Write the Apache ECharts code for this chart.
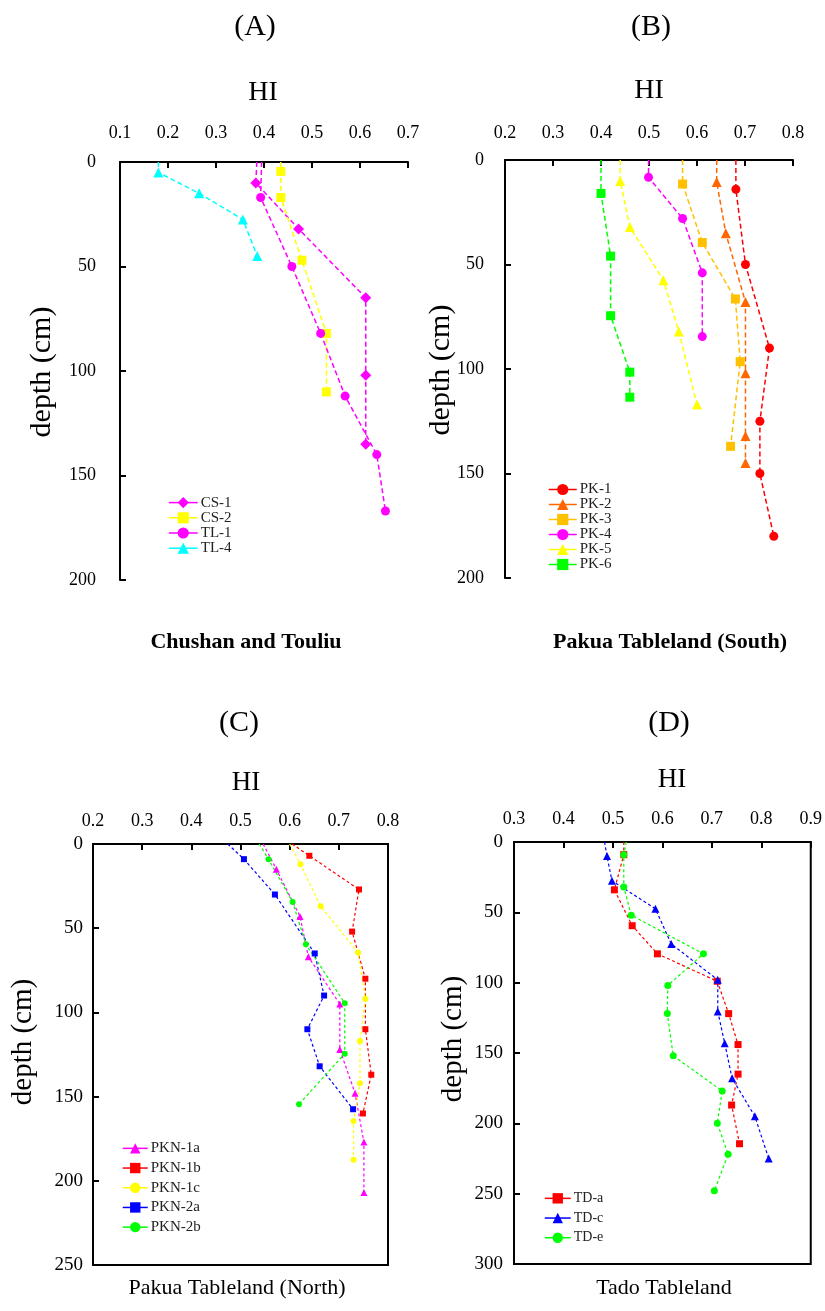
<!DOCTYPE html>
<html>
<head>
<meta charset="utf-8">
<script src="https://cdn.jsdelivr.net/npm/echarts@6/dist/echarts.min.js"></script>
<style>
html,body{margin:0;padding:0;background:#fff;}
#chart{width:825px;height:1311px;}
</style>
</head>
<body>
<div id="chart"></div>
<script>
// ---- Data: [HI, depth(cm)]; first entry is the surface (0 cm) start of each profile line ----
// Panel A: Chushan and Touliu
const CS1 = [[0.385,0],[0.383,10],[0.472,32],[0.612,65],[0.612,102],[0.612,135]];
const CS2 = [[0.435,0],[0.435,4.5],[0.435,17],[0.479,47],[0.53,82],[0.53,110]];
const TL1 = [[0.395,0],[0.393,17],[0.458,50],[0.518,82],[0.569,112],[0.635,140],[0.653,167]];
const TL4 = [[0.18,0],[0.18,5],[0.265,15],[0.356,27.5],[0.386,45]];
// Panel B: Pakua Tableland (South)
const PK1 = [[0.681,0],[0.681,14],[0.701,50],[0.751,90],[0.731,125],[0.731,150],[0.76,180]];
const PK2 = [[0.641,0],[0.641,10.5],[0.66,35],[0.701,68],[0.701,102],[0.701,132],[0.701,145]];
const PK3 = [[0.57,0],[0.57,11.5],[0.611,39.5],[0.68,66.5],[0.69,96.5],[0.67,137]];
const PK4 = [[0.499,0],[0.499,8.3],[0.57,28],[0.611,54],[0.611,84.5]];
const PK5 = [[0.44,0],[0.44,10],[0.46,32],[0.53,57.5],[0.562,82],[0.6,117]];
const PK6 = [[0.4,0],[0.4,16],[0.42,46],[0.42,74.5],[0.46,101.5],[0.46,113.5]];
// Panel C: Pakua Tableland (North)
const PKN1a = [[0.546,0],[0.573,15],[0.621,43],[0.638,67],[0.702,95],[0.702,122],[0.733,148],[0.751,177],[0.751,207]];
const PKN1b = [[0.605,0],[0.64,7],[0.741,27],[0.727,52],[0.754,80],[0.754,110],[0.766,137],[0.749,160]];
const PKN1c = [[0.60,0],[0.622,12],[0.663,37],[0.739,64.5],[0.754,92],[0.743,117],[0.743,142],[0.73,164.5],[0.73,187.5]];
const PKN2a = [[0.474,0],[0.507,9],[0.57,30],[0.651,65],[0.67,90],[0.636,110],[0.661,132],[0.729,157.5]];
const PKN2b = [[0.538,0],[0.557,9],[0.606,34.5],[0.633,59.5],[0.712,94.5],[0.712,124.5],[0.619,154.5]];
// Panel D: Tado Tableland
const TDa = [[0.522,0],[0.522,9],[0.503,34],[0.539,59.5],[0.59,79.5],[0.711,99],[0.734,122],[0.753,144],[0.753,165],[0.74,187],[0.756,214.5]];
const TDc = [[0.483,0],[0.488,10],[0.498,27.5],[0.586,47.5],[0.618,72.5],[0.712,98],[0.712,120.5],[0.726,143],[0.741,168],[0.787,195],[0.815,225]];
const TDe = [[0.527,0],[0.522,9],[0.522,32],[0.537,52],[0.683,79.5],[0.611,102],[0.61,122],[0.622,152],[0.721,177],[0.711,200],[0.733,222],[0.705,248]];

// Axis ranges
const xRanges = [[0.1,0.7],[0.2,0.8],[0.2,0.8],[0.3,0.9]];
const yRanges = [[0,200],[0,200],[0,250],[0,300]];

const FONT = '"Liberation Serif","Times New Roman",serif';

const grids = [
  {left:120, top:162, width:288, height:418},
  {left:505, top:160, width:288, height:418},
  {left:93,  top:844, width:295, height:421, show:true, borderColor:'#000', borderWidth:2},
  {left:514, top:842, width:298, height:422, show:true, borderColor:'#000', borderWidth:2}
];

const xLabelMargin = [20, 18, 14, 14];
const yLabelMargin = [24, 21, 10, 11];
const yLabelSize = [18, 18, 19, 19];

const xAxes = xRanges.map((r,i)=>({
  gridIndex:i, type:'value', position:'top', min:r[0], max:r[1], interval:0.1,
  axisLine:{show:true, onZero:false, lineStyle:{color:'#000', width:2}},
  axisTick:{show:true, inside:true, length:6, lineStyle:{color:'#000', width:2}},
  axisLabel:{margin:xLabelMargin[i], fontSize:18, fontFamily:FONT, color:'#000',
    formatter:v=>v.toFixed(1)},
  splitLine:{show:false}
}));
const yAxes = yRanges.map((r,i)=>({
  gridIndex:i, type:'value', inverse:true, min:r[0], max:r[1], interval:50,
  axisLine:{show:true, onZero:false, lineStyle:{color:'#000', width:2}},
  axisTick:{show:true, inside:true, length:6, lineStyle:{color:'#000', width:2}},
  axisLabel:{margin:yLabelMargin[i], fontSize:yLabelSize[i], fontFamily:FONT, color:'#000'},
  splitLine:{show:false}
}));

function mk(name, data, gi, symbol, size, color, width, dash){
  return {
    name, type:'line', xAxisIndex:gi, yAxisIndex:gi,
    data: data.map((p,i)=> i===0 ? {value:p, symbol:'none'} : {value:p}),
    symbol, symbolSize:size, showAllSymbol:true,
    lineStyle:{color, width, type:dash},
    itemStyle:{color, borderWidth:0},
    emphasis:{disabled:true},
    animation:false
  };
}
const dA=[5,3], dC=[3,2.5];
const series = [
  mk('CS-1', CS1, 0, 'diamond', 11, '#FF00FF', 1.5, dA),
  mk('CS-2', CS2, 0, 'rect', 9, '#FFFF00', 1.5, dA),
  mk('TL-1', TL1, 0, 'circle', 9, '#FF00FF', 1.5, dA),
  mk('TL-4', TL4, 0, 'triangle', 10, '#00FFFF', 1.5, dA),
  mk('PK-1', PK1, 1, 'circle', 9, '#FF0000', 1.5, dA),
  mk('PK-2', PK2, 1, 'triangle', 10, '#FF6600', 1.5, dA),
  mk('PK-3', PK3, 1, 'rect', 9, '#FFC000', 1.5, dA),
  mk('PK-4', PK4, 1, 'circle', 9, '#FF00FF', 1.5, dA),
  mk('PK-5', PK5, 1, 'triangle', 10, '#FFFF00', 1.5, dA),
  mk('PK-6', PK6, 1, 'rect', 9, '#00FF00', 1.5, dA),
  mk('PKN-1a', PKN1a, 2, 'triangle', 7, '#FF00FF', 1.2, dC),
  mk('PKN-1b', PKN1b, 2, 'rect', 6, '#FF0000', 1.2, dC),
  mk('PKN-1c', PKN1c, 2, 'circle', 6, '#FFFF00', 1.2, dC),
  mk('PKN-2a', PKN2a, 2, 'rect', 6, '#0000FF', 1.2, dC),
  mk('PKN-2b', PKN2b, 2, 'circle', 6, '#00FF00', 1.2, dC),
  mk('TD-a', TDa, 3, 'rect', 7, '#FF0000', 1.2, dC),
  mk('TD-c', TDc, 3, 'triangle', 8, '#0000FF', 1.2, dC),
  mk('TD-e', TDe, 3, 'circle', 7, '#00FF00', 1.2, dC)
];

function lg(names, left, top, itemW, itemH, rowH, fs){
  return {
    data:names, orient:'vertical', left, top, padding:0, itemGap:0,
    itemWidth:itemW, itemHeight:itemH, selectedMode:false,
    lineStyle:{type:'solid', width:1.5},
    textStyle:{fontFamily:FONT, fontSize:fs, color:'#222', lineHeight:rowH, padding:[0,0,0,-2]}
  };
}
const legends = [
  lg(['CS-1','CS-2','TL-1','TL-4'], 168, 495, 29, 14, 15.2, 15),
  lg(['PK-1','PK-2','PK-3','PK-4','PK-5','PK-6'], 548, 482, 28, 14, 14.06, 15),
  lg(['PKN-1a','PKN-1b','PKN-1c','PKN-2a','PKN-2b'], 122, 1138.5, 25, 13, 19.7, 15),
  lg(['TD-a','TD-c','TD-e'], 544, 1188.5, 26, 13, 19.7, 14)
];

function txt(text, x, y, size, opts){
  opts = opts || {};
  return {
    type:'text', x, y, rotation: opts.rot || 0, silent:true,
    style:{text, fill:'#000', fontFamily:FONT, fontSize:size, fontWeight: opts.bold ? 'bold' : 'normal',
      align:'center', verticalAlign:'middle', textAlign:'center', textVerticalAlign:'middle'}
  };
}
const graphics = [
  txt('(A)', 255, 27, 30), txt('(B)', 651, 27, 30),
  txt('HI', 263, 93, 28), txt('HI', 649, 91, 28),
  txt('depth (cm)', 42, 372, 30, {rot:Math.PI/2}),
  txt('depth (cm)', 441, 370, 30, {rot:Math.PI/2}),
  txt('Chushan and Touliu', 246, 642, 22, {bold:true}),
  txt('Pakua Tableland (South)', 670, 642, 22, {bold:true}),
  txt('(C)', 239, 723, 30), txt('(D)', 669, 723, 30),
  txt('HI', 246, 783, 27), txt('HI', 672, 780, 27),
  txt('depth (cm)', 23, 1042, 29, {rot:Math.PI/2}),
  txt('depth (cm)', 453, 1039, 29, {rot:Math.PI/2}),
  txt('Pakua Tableland (North)', 237, 1288, 22),
  txt('Tado Tableland', 664, 1288, 22)
];

const chart = echarts.init(document.getElementById('chart'), null, {renderer:'canvas'});
chart.setOption({
  backgroundColor:'#fff',
  animation:false,
  grid:grids, xAxis:xAxes, yAxis:yAxes,
  legend:legends, series, graphic:graphics
});
</script>
</body>
</html>
